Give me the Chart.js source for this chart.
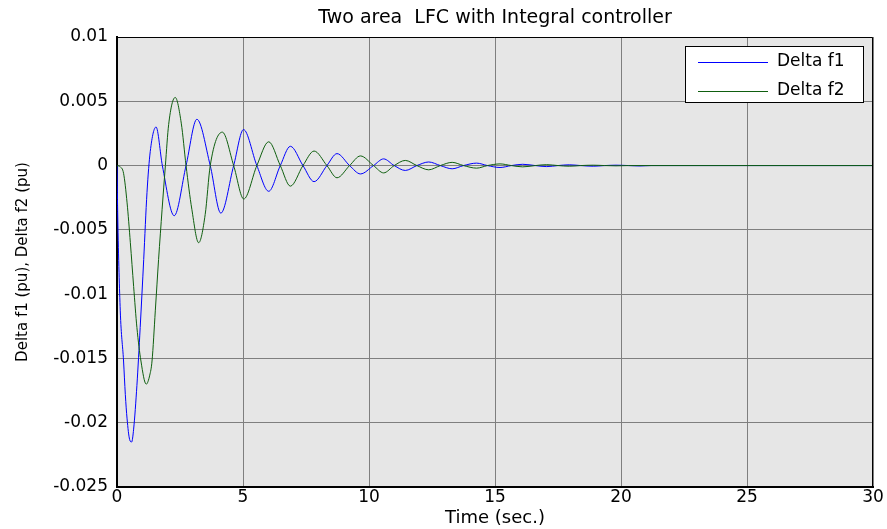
<!DOCTYPE html>
<html>
<head>
<meta charset="utf-8">
<script src="https://cdn.jsdelivr.net/npm/chart.js@4.4.1/dist/chart.umd.min.js"></script>
<style>
  body { margin: 0; background: #fff; }
  canvas { display: block; }
</style>
</head>
<body>
<canvas id="chart" width="887" height="529"></canvas>
<script>
    // Data (time in seconds, deviation in pu)
    const timeF1 = [0, 0.03, 0.13, 0.26, 0.33, 0.4, 0.5, 0.58, 0.66, 0.79, 0.92, 1.06, 1.19, 1.32, 1.55,
      1.8, 2.27, 2.74, 3.17, 3.7, 4.12, 4.63, 5.02, 5.55, 6.02, 6.48, 6.88, 7.38, 7.82, 8.33, 8.73,
      9.23, 9.66, 10.18, 10.58, 11.0, 11.44, 11.9, 12.37, 12.83, 13.3, 13.75, 14.27, 14.7, 15.2,
      15.65, 16.1, 16.6, 17.05, 17.5, 17.95, 18.4, 18.9, 19.35, 19.8, 20.3, 20.75, 21.2, 30];
    const deltaF1 = [0, -0.004, -0.0113, -0.0152, -0.0178, -0.0197, -0.0213, -0.0215, -0.0205, -0.0171, -0.0126, -0.0073, -0.0021, 0.0011, 0.0030,
      0, -0.0039, 0, 0.0036, 0, -0.0037, 0, 0.0028, 0, -0.0020, 0, 0.0015, 0, -0.00125, 0, 0.00093,
      0, -0.00065, 0, 0.00052, 0, -0.00038, 0, 0.00028, 0, -0.00025, 0, 0.00019, 0, -0.00015,
      0, 0.0001, 0, -0.00008, 0, 0.00006, 0, -0.00005, 0, 0.00003, 0, -0.00003, 0, 0];

    const timeF2 = [0, 0.13, 0.26, 0.4, 0.53, 0.66, 0.79, 0.95, 1.16, 1.3, 1.39, 1.52, 1.65, 1.79, 1.92,
      2.05, 2.31, 2.55, 2.74, 2.97, 3.24, 3.5, 3.7, 4.18, 4.63, 5.03, 5.55, 6.02, 6.48, 6.88, 7.38,
      7.82, 8.33, 8.73, 9.23, 9.66, 10.18, 10.58, 11.0, 11.44, 11.9, 12.37, 12.83, 13.3, 13.75,
      14.27, 14.7, 15.2, 15.65, 16.1, 16.6, 17.05, 17.5, 17.95, 18.4, 18.9, 19.35, 19.8, 20.3, 30];
    const deltaF2 = [0, -0.0001, -0.0006, -0.0029, -0.006, -0.0094, -0.0126, -0.0152, -0.0170, -0.0163, -0.0152, -0.0113, -0.0073, -0.0034, 0,
      0.0032, 0.0053, 0.0033, 0, -0.0034, -0.0060, -0.0038, 0, 0.0026, 0, -0.0026, 0, 0.00185, 0, -0.0016, 0,
      0.00113, 0, -0.00095, 0, 0.00075, 0, -0.00057, 0, 0.0004, 0, -0.00033, 0, 0.00025, 0,
      -0.0002, 0, 0.00013, 0, -0.0001, 0, 0.00007, 0, -0.00005, 0, 0.00003, 0, -0.00002, 0, 0];

    const xTicks = [0, 5, 10, 15, 20, 25, 30];
    const yTicks = [0.01, 0.005, 0, -0.005, -0.01, -0.015, -0.02, -0.025];

    const FONT = 'DejaVu Sans';

    // Grey plot background + box around the axes + legend inside the plot
    const frame = {
      id: 'frame',
      beforeDraw(chart) {
        const { ctx, chartArea: a } = chart;
        ctx.save();
        ctx.fillStyle = '#e6e6e6';
        ctx.fillRect(a.left, a.top, a.right - a.left, a.bottom - a.top);
        ctx.restore();
      },
      afterDraw(chart) {
        const { ctx, chartArea: a } = chart;
        ctx.save();
        ctx.strokeStyle = '#000';
        ctx.lineWidth = 1;
        ctx.beginPath();
        ctx.moveTo(a.left, a.top + 0.5);
        ctx.lineTo(a.right - 0.5, a.top + 0.5);
        ctx.lineTo(a.right - 0.5, a.bottom);
        ctx.stroke();

        const w = 178, h = 56;
        const x0 = a.right - 10 - w, y0 = a.top + 9;
        ctx.fillStyle = '#fff';
        ctx.fillRect(x0, y0, w, h);
        ctx.strokeRect(x0 + 0.5, y0 + 0.5, w, h);
        ctx.font = '17px "' + FONT + '"';
        ctx.textBaseline = 'middle';
        ctx.fillStyle = '#000';
        chart.data.datasets.forEach((ds, i) => {
          const y = y0 + 16 + i * 29;
          ctx.strokeStyle = ds.borderColor;
          ctx.beginPath();
          ctx.moveTo(x0 + 13, y + 0.5);
          ctx.lineTo(x0 + 83, y + 0.5);
          ctx.stroke();
          ctx.fillText(ds.label, x0 + 92, y);
        });
        ctx.restore();
      }
    };

    const ctx = document.getElementById('chart').getContext('2d');
    new Chart(ctx, {
      type: 'line',
      data: {
        datasets: [
          {
            label: 'Delta f1',
            data: timeF1.map((t, i) => ({ x: t, y: deltaF1[i] })),
            borderColor: '#0000ff',
            borderWidth: 1,
            pointRadius: 0,
            cubicInterpolationMode: 'monotone',
            fill: false,
            order: 1
          },
          {
            label: 'Delta f2',
            data: timeF2.map((t, i) => ({ x: t, y: deltaF2[i] })),
            borderColor: '#0f5f0f',
            borderWidth: 1,
            pointRadius: 0,
            cubicInterpolationMode: 'monotone',
            fill: false,
            order: 0
          }
        ]
      },
      options: {
        responsive: false,
        animation: false,
        devicePixelRatio: 1,
        layout: { padding: { left: 0, right: 14, top: 0, bottom: 0 } },
        scales: {
          x: {
            type: 'linear',
            min: 0,
            max: 30,
            afterFit: scale => { scale.height = 42; },
            afterBuildTicks: scale => { scale.ticks = xTicks.map(v => ({ value: v })); },
            ticks: {
              color: '#000',
              font: { family: FONT, size: 17 },
              padding: 0,
              maxRotation: 0
            },
            grid: { color: '#7f7f7f', drawTicks: false },
            border: { color: '#000', width: 2 },
            title: {
              display: true,
              text: 'Time (sec.)',
              color: '#000',
              font: { family: FONT, size: 18 },
              padding: { top: 0, bottom: 0 }
            }
          },
          y: {
            min: -0.025,
            max: 0.01,
            afterFit: scale => { scale.width = 117; },
            afterBuildTicks: scale => { scale.ticks = yTicks.map(v => ({ value: v })); },
            ticks: {
              color: '#000',
              font: { family: FONT, size: 17 },
              padding: 9,
              callback: value => String(parseFloat(value.toFixed(3)))
            },
            grid: { color: '#7f7f7f', drawTicks: false },
            border: { color: '#000', width: 2 },
            title: {
              display: true,
              text: 'Delta f1 (pu), Delta f2 (pu)',
              color: '#000',
              font: { family: FONT, size: 15 },
              padding: { top: 14, bottom: 0 }
            }
          }
        },
        plugins: {
          legend: { display: false },
          tooltip: { enabled: false },
          title: {
            display: true,
            fullSize: false,
            text: 'Two area  LFC with Integral controller',
            color: '#000',
            font: { family: FONT, size: 19, weight: 'normal', lineHeight: 1.2 },
            padding: { top: 7, bottom: 7.2 }
          }
        }
      },
      plugins: [frame]
    });
</script>
</body>
</html>
